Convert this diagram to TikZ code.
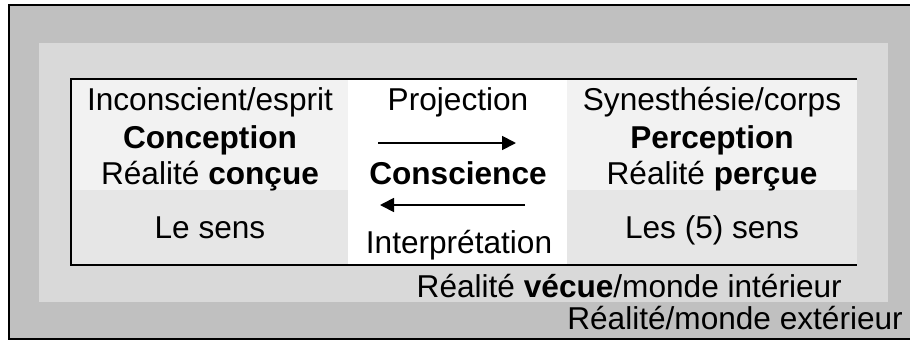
\documentclass[tikz,border=0pt]{standalone}
\usepackage{fontspec}
\setmainfont{Liberation Sans}
\usetikzlibrary{arrows.meta}
\definecolor{outergray}{HTML}{C0C0C0}
\definecolor{midgray}{HTML}{D9D9D9}
\definecolor{celltop}{HTML}{F2F2F2}
\definecolor{cellbot}{HTML}{E6E6E6}
\begin{document}
\begin{tikzpicture}[x=1pt,y=-1pt,
  lbl/.style={inner sep=0,anchor=base,font=\fontsize{31.6}{38}\selectfont},
  lblr/.style={lbl,anchor=base east},
  frameline/.style={draw=black,line width=2.5pt},
  innerline/.style={draw=black,line width=2pt},
  arr/.style={draw=black,line width=1.8pt,-{Triangle[length=14pt,width=14pt]}}]
\useasboundingbox (0,0) rectangle (910,341);
% outer world
\fill[outergray] (9,5) rectangle (910,339);
\draw[frameline] (910,5) -- (9,5) -- (9,339) -- (910,339);
% inner world
\fill[midgray] (39,43) rectangle (888,302);
% table
\fill[celltop] (71,79) rectangle (348,190);
\fill[cellbot] (71,190) rectangle (348,265);
\fill[white] (348,79) rectangle (567,265);
\fill[celltop] (567,79) rectangle (857,190);
\fill[cellbot] (567,190) rectangle (857,265);
\draw[innerline] (857,79) -- (71,79) -- (71,265) -- (857,265);
% left column
\node[lbl] (ie) at (210,110) {Inconscient/esprit};
\node[lbl] (conc) at (210,148) {\textbf{Conception}};
\node[lbl] (rc) at (210,184) {Réalité \textbf{conçue}};
\node[lbl] (ls) at (210,238) {Le sens};
% centre column
\node[lbl] (proj) at (458,110) {Projection};
\node[lbl] (consc) at (458,184) {\textbf{Conscience}};
\node[lbl] (interp) at (459,253) {Interprétation};
% right column
\node[lbl] (sc) at (712,110) {Synesthésie/corps};
\node[lbl] (perc) at (712,148) {\textbf{Perception}};
\node[lbl] (rp) at (712,184) {Réalité \textbf{perçue}};
\node[lbl] (l5s) at (712,238) {Les (5) sens};
% worlds
\node[lblr] (rv) at (842,297) {Réalité \textbf{vécue}/monde intérieur};
\node[lblr] (re) at (903,329) {Réalité/monde extérieur};
% arrows
\coordinate (pa) at (378,143);
\coordinate (pb) at (516,143);
\coordinate (ia) at (525,205);
\coordinate (ib) at (380,205);
\draw[arr] (pa) -- (pb);
\draw[arr] (ia) -- (ib);
\end{tikzpicture}
\end{document}
